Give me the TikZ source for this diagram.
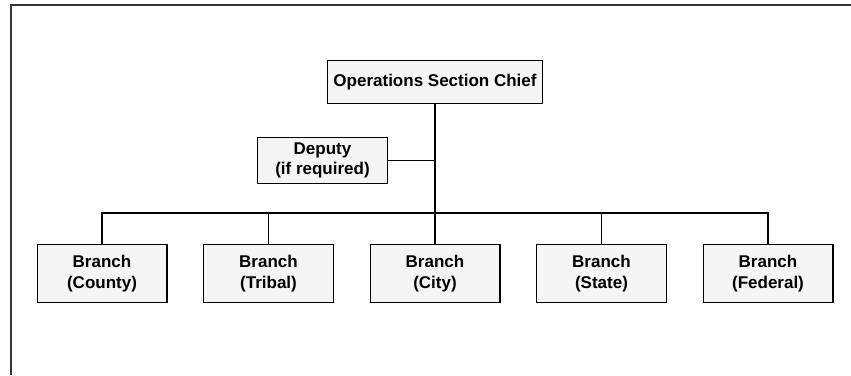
\documentclass[tikz,border=0pt]{standalone}
\usepackage{fontspec}
\setmainfont{Liberation Sans}
\usepackage{xcolor}
\usepackage{tikz}
\usetikzlibrary{positioning}
\definecolor{boxfill}{HTML}{F5F5F5}
\definecolor{framegray}{HTML}{333333}
\tikzstyle{post} = [rectangle, draw=black, line width=1.4pt, fill=boxfill, align=center, inner sep=2pt, font=\fontsize{17}{20.5}\selectfont\bfseries]
\tikzstyle{chiefbox} = [post, minimum width=214.6pt, minimum height=42.6pt]
\tikzstyle{deputybox} = [post, minimum width=129.6pt, minimum height=45.6pt]
\tikzstyle{branchbox} = [post, minimum width=129.6pt, minimum height=57.6pt]
\tikzstyle{thinline} = [line width=1.2pt]
\tikzstyle{thickline} = [line width=2pt]

\begin{document}
\begin{tikzpicture}[x=1pt, y=-1pt, node distance=35.5pt]
\useasboundingbox (0,0) rectangle (851,375);
\draw [line width=2pt, framegray] (11,375) -- (11,5) -- (853,5);

% Nodes
\node (chief) [chiefbox] at (435,82) {Operations Section Chief};
\node (deputy) [deputybox] at (322.5,160.5) {Deputy\\(if required)};
\node (county) [branchbox] at (102,273.5) {Branch\\(County)};
\node (tribal) [branchbox, right=of county] {Branch\\(Tribal)};
\node (city) [branchbox, right=of tribal] {Branch\\(City)};
\node (state) [branchbox, right=of city] {Branch\\(State)};
\node (federal) [branchbox, right=of state] {Branch\\(Federal)};
\coordinate (bar) at (435,213);

% Lines
\draw [thinline] (county.north) |- (federal.north |- bar) -- (federal.north);
\draw [thinline] (tribal.north) -- (tribal.north |- bar);
\draw [thinline] (city.north) -- (city.north |- bar);
\draw [thinline] (state.north) -- (state.north |- bar);
\draw [thinline] (deputy) -- (deputy -| chief);
\draw [thickline] (chief) -- (bar);
\draw [thickline] (tribal.north |- bar) -- (state.north |- bar);
\end{tikzpicture}
\end{document}
